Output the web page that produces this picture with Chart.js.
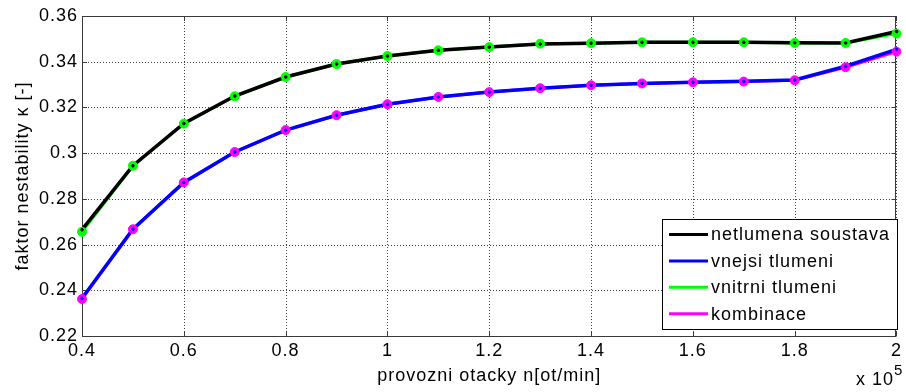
<!DOCTYPE html>
<html>
<head>
<meta charset="utf-8">
<script src="https://cdn.jsdelivr.net/npm/chart.js@4"></script>
<style>
  html, body { margin: 0; padding: 0; background: #fff; }
  #wrap { width: 906px; height: 392px; }
</style>
</head>
<body>
<div id="wrap"><canvas id="c" width="906" height="392"></canvas></div>
<script>
// ---- data ----
const speeds = [0.4, 0.5, 0.6, 0.7, 0.8, 0.9, 1.0, 1.1, 1.2, 1.3, 1.4, 1.5, 1.6, 1.7, 1.8, 1.9, 2.0];
const netlumena = [0.2665, 0.2945, 0.3130, 0.3250, 0.3333, 0.3390, 0.3425, 0.3450, 0.3464, 0.3477, 0.3481, 0.3485, 0.3485, 0.3485, 0.3483, 0.3482, 0.3532];
const vnejsi    = [0.2365, 0.2667, 0.2872, 0.3005, 0.3101, 0.3166, 0.3214, 0.3246, 0.3267, 0.3284, 0.3297, 0.3305, 0.3310, 0.3314, 0.3320, 0.3380, 0.3454];
const vnitrni   = [0.2656, 0.2945, 0.3129, 0.3249, 0.3333, 0.3390, 0.3425, 0.3450, 0.3464, 0.3479, 0.3481, 0.3485, 0.3485, 0.3485, 0.3482, 0.3482, 0.3523];
const kombinace = [0.2362, 0.2667, 0.2872, 0.3005, 0.3101, 0.3166, 0.3214, 0.3246, 0.3267, 0.3284, 0.3297, 0.3305, 0.3310, 0.3313, 0.3319, 0.3376, 0.3444];
const seriesLabels = ['netlumena soustava', 'vnejsi tlumeni', 'vnitrni tlumeni', 'kombinace'];
const xTicks = [0.4, 0.6, 0.8, 1.0, 1.2, 1.4, 1.6, 1.8, 2.0];
const yTicks = [0.22, 0.24, 0.26, 0.28, 0.30, 0.32, 0.34, 0.36];
const xTitle = 'provozni otacky n[ot/min]';
const yTitle = 'faktor nestability \u03ba [-]';
const xExponentBase = 'x 10';
const xExponent = '5';

// ---- helpers ----
const FONT = '"Liberation Sans", Arial, Helvetica, sans-serif';
const pts = arr => speeds.map((x, i) => ({ x: x, y: arr[i] }));
const fmt = v => String(Number(v.toFixed(3)));

function lineDs(label, arr, color, width, order) {
  return { label, data: pts(arr), borderColor: color, backgroundColor: color, borderWidth: width,
           pointRadius: 0, pointHoverRadius: 0, tension: 0, clip: false, order, isLegend: true };
}
function markDs(arr, color, radius, order) {
  return { label: '', data: pts(arr), showLine: false, borderColor: color, backgroundColor: color,
           borderWidth: 1, pointRadius: radius, pointHoverRadius: radius, clip: false, order };
}

const letterSpacingPlugin = {
  id: 'ls',
  beforeUpdate(chart) { try { chart.ctx.letterSpacing = '1px'; } catch (e) {} },
  beforeDraw(chart) { try { chart.ctx.letterSpacing = '1px'; } catch (e) {} }
};

const framePlugin = {
  id: 'frame',
  beforeDatasetsDraw(chart) {
    const { ctx, chartArea: a, scales } = chart;
    ctx.save();
    // dotted grid
    ctx.strokeStyle = 'rgba(0,0,0,0.75)';
    ctx.lineWidth = 1;
    ctx.setLineDash([1, 2]);
    ctx.beginPath();
    xTicks.forEach(v => {
      const px = Math.round(scales.x.getPixelForValue(v)) + 0.5;
      ctx.moveTo(px, a.top); ctx.lineTo(px, a.bottom);
    });
    yTicks.forEach(v => {
      const py = Math.round(scales.y.getPixelForValue(v)) + 0.5;
      ctx.moveTo(a.left, py); ctx.lineTo(a.right, py);
    });
    ctx.stroke();
    ctx.setLineDash([]);
    // box
    ctx.strokeStyle = '#3a3a3a';
    ctx.strokeRect(Math.round(a.left) + 0.5, Math.round(a.top) + 0.5,
                   Math.round(a.right - a.left) - 1, Math.round(a.bottom - a.top));
    // inward ticks
    const tl = 5;
    ctx.beginPath();
    xTicks.forEach(v => {
      const px = Math.round(scales.x.getPixelForValue(v)) + 0.5;
      ctx.moveTo(px, a.bottom); ctx.lineTo(px, a.bottom - tl);
      ctx.moveTo(px, a.top); ctx.lineTo(px, a.top + tl);
    });
    yTicks.forEach(v => {
      const py = Math.round(scales.y.getPixelForValue(v)) + 0.5;
      ctx.moveTo(a.left, py); ctx.lineTo(a.left + tl, py);
      ctx.moveTo(a.right, py); ctx.lineTo(a.right - tl, py);
    });
    ctx.stroke();
    ctx.restore();
  },
  afterDatasetsDraw(chart) {
    const { ctx } = chart;
    ctx.save();
    try { ctx.letterSpacing = '1px'; } catch (e) {}
    // legend box
    const bx = 662.5, by = 219.5, bw = 235, bh = 110;
    ctx.fillStyle = '#fff';
    ctx.fillRect(bx, by, bw, bh);
    ctx.strokeStyle = '#000';
    ctx.lineWidth = 1;
    ctx.strokeRect(bx, by, bw, bh);
    const legendSets = chart.data.datasets.filter(d => d.isLegend)
      .sort((p, q) => seriesLabels.indexOf(p.label) - seriesLabels.indexOf(q.label));
    ctx.font = '18px ' + FONT;
    ctx.textBaseline = 'middle';
    ctx.textAlign = 'left';
    legendSets.forEach((d, i) => {
      const y = 234.5 + i * 26.4;
      ctx.strokeStyle = d.borderColor;
      ctx.lineWidth = 3;
      ctx.beginPath();
      ctx.moveTo(669, y); ctx.lineTo(708, y);
      ctx.stroke();
      ctx.fillStyle = '#000';
      ctx.fillText(d.label, 711, y + 1);
    });
    // exponent label
    ctx.font = '18px ' + FONT;
    ctx.textAlign = 'right';
    ctx.textBaseline = 'alphabetic';
    ctx.fillText(xExponentBase, 894, 385);
    ctx.font = '15px ' + FONT;
    ctx.textAlign = 'left';
    ctx.fillText(xExponent, 894, 375);
    ctx.restore();
  }
};

Chart.defaults.font.family = FONT;
Chart.defaults.font.size = 18;
Chart.defaults.color = '#000';

new Chart(document.getElementById('c'), {
  type: 'line',
  data: {
    datasets: [
      markDs(netlumena, '#000000', 1.3, 1),
      markDs(vnejsi, '#0000ff', 1.3, 1),
      markDs(vnitrni, '#00ff00', 4.5, 2),
      markDs(kombinace, '#ff00ff', 4.5, 2),
      lineDs(seriesLabels[0], netlumena, '#000000', 3.5, 3),
      lineDs(seriesLabels[1], vnejsi, '#0000ff', 3.5, 3),
      lineDs(seriesLabels[2], vnitrni, '#00ff00', 3, 4),
      lineDs(seriesLabels[3], kombinace, '#ff00ff', 3, 4)
    ]
  },
  options: {
    responsive: false,
    animation: false,
    events: [],
    layout: { padding: { left: 0, right: 2, top: 16, bottom: 0 } },
    plugins: { legend: { display: false }, tooltip: { enabled: false } },
    scales: {
      x: {
        type: 'linear', min: 0.4, max: 2.0,
        afterBuildTicks: s => { s.ticks = xTicks.map(v => ({ value: v })); },
        afterFit: s => { s.height = 56; },
        ticks: { callback: v => fmt(v), padding: 4, maxRotation: 0, autoSkip: false, font: { size: 18 } },
        grid: { display: false, drawTicks: false },
        border: { display: false },
        title: { display: true, text: xTitle, font: { size: 18 }, padding: { top: 0, bottom: 5 } }
      },
      y: {
        type: 'linear', min: 0.22, max: 0.36,
        afterBuildTicks: s => { s.ticks = yTicks.map(v => ({ value: v })); },
        afterFit: s => { s.width = 82; },
        ticks: { callback: v => fmt(v), padding: 4, autoSkip: false, font: { size: 18 } },
        grid: { display: false, drawTicks: false },
        border: { display: false },
        title: { display: true, text: yTitle, font: { size: 18 }, padding: { top: 12, bottom: 0 } }
      }
    }
  },
  plugins: [letterSpacingPlugin, framePlugin]
});
</script>
</body>
</html>
